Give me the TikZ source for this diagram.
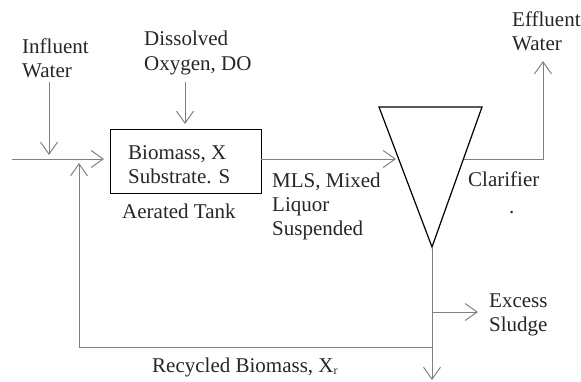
\documentclass[tikz,border=0pt]{standalone}
\usepackage{fontspec}
\setmainfont{Liberation Serif}
\usetikzlibrary{arrows.meta}
\begin{document}
\begin{tikzpicture}[x=1pt,y=-1pt,
  lbl/.style={anchor=base west,inner sep=0pt,text=black!85,font=\fontsize{21}{24}\selectfont},
  conn/.style={draw=black!50,line width=1pt},
  arr/.style={conn,-{Straight Barb[length=12pt,width=17pt,line width=1pt]}},
  unit/.style={draw=black,line width=1.2pt}]
\useasboundingbox (0,0) rectangle (581,381);
% tank
\node[unit,rectangle,minimum width=151pt,minimum height=64pt,anchor=north west,inner sep=0pt] (tank) at (110,129) {};
\node[lbl] (bio) at (128,159) {Biomass, X};
\node[lbl] (sub) at (128,183) {Substrate. S};
\node[lbl] (aer) at (122,218) {Aerated Tank};
% clarifier
\coordinate (tl) at (379,107);
\coordinate (tr) at (482,107);
\coordinate (ap) at (432,247);
\draw[unit] (tl) -- (tr) -- (ap) -- cycle;
\coordinate (clin) at (396,159);
\coordinate (clout) at (464,159);
% labels
\node[lbl] (inf1) at (22,53) {Influent};
\node[lbl] (inf2) at (22,77) {Water};
\node[lbl] (do1) at (144,45) {Dissolved};
\node[lbl] (do2) at (144,70) {Oxygen, DO};
\node[lbl] (mls1) at (272,187) {MLS, Mixed};
\node[lbl] (mls2) at (272,211) {Liquor};
\node[lbl] (mls3) at (272,235) {Suspended};
\node[lbl] (clar) at (468,186) {Clarifier};
\node[lbl] (dot) at (509,213) {.};
\node[lbl] (eff1) at (512,26) {Effluent};
\node[lbl] (eff2) at (512,50) {Water};
\node[lbl] (ex1) at (489,307) {Excess};
\node[lbl] (ex2) at (489,331) {Sludge};
\node[lbl] (rec) at (152,372) {Recycled Biomass, X\raisebox{-0.25ex}{\fontsize{12}{12}\selectfont r}};
% connector points
\coordinate (inS) at (12,159);
\coordinate (inT) at (104,159);
\coordinate (infS) at (49,82);
\coordinate (infT) at (49,155);
\coordinate (doS) at (185,82);
\coordinate (doT) at (185,124);
\coordinate (tankR) at (261,159);
\coordinate (effC) at (543,159);
\coordinate (effT) at (543,61);
\coordinate (exS) at (432,312);
\coordinate (exT) at (478,312);
\coordinate (recC) at (432,347);
\coordinate (recL) at (79,347);
\coordinate (recT) at (79,163);
\coordinate (botT) at (432,380);
% connectors
\draw[arr] (inS) -- (inT);
\draw[arr] (infS) -- (infT);
\draw[arr] (doS) -- (doT);
\draw[arr] (tankR) -- (clin);
\draw[arr] (clout) -- (effC) -- (effT);
\draw[arr] (ap) -- (botT);
\draw[arr] (exS) -- (exT);
\draw[arr] (recC) -- (recL) -- (recT);
\end{tikzpicture}
\end{document}
